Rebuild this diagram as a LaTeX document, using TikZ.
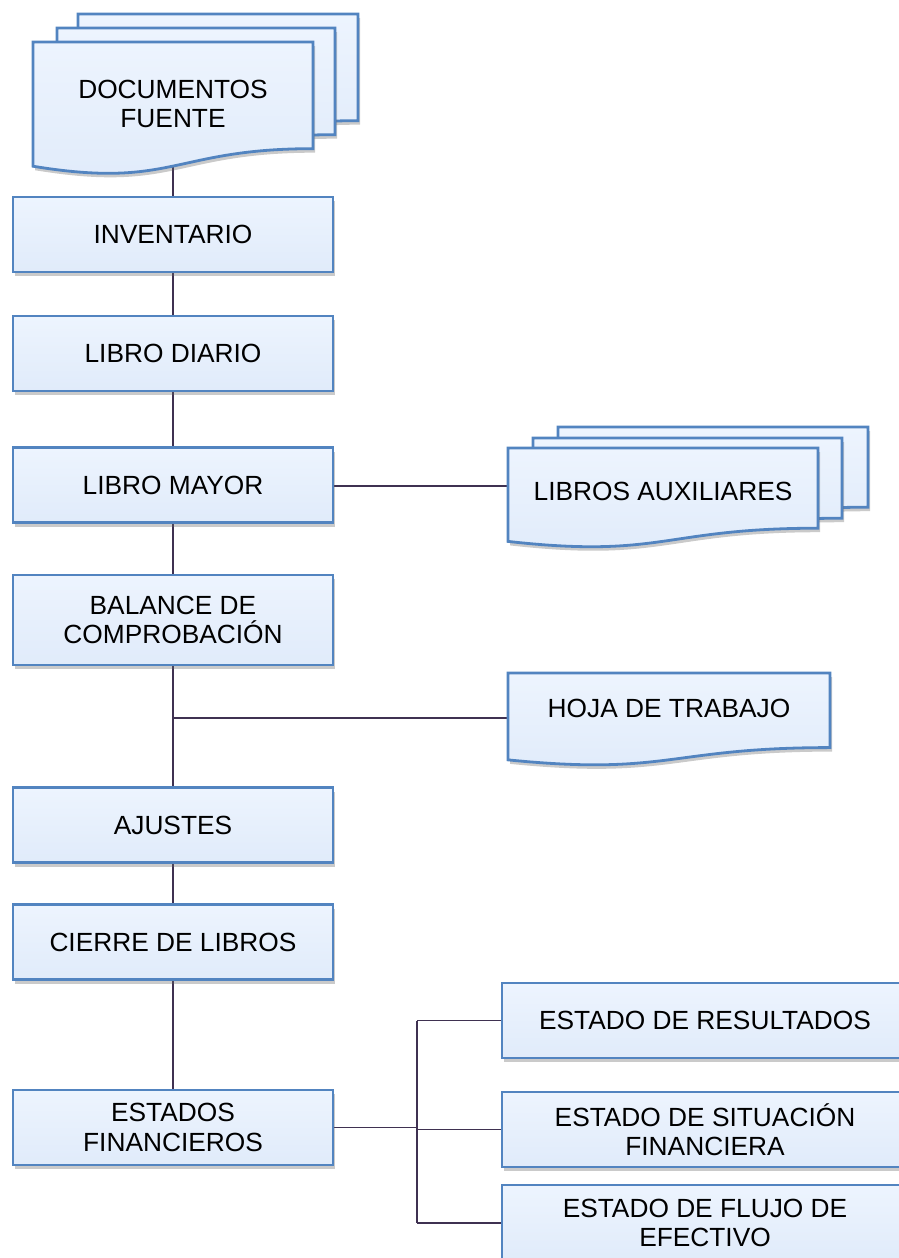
\documentclass[tikz,border=0pt]{standalone}
\usepackage{fontspec}
\setmainfont{Liberation Sans}
\usetikzlibrary{shadows,backgrounds}
\definecolor{boxfilltop}{HTML}{EDF4FE}
\definecolor{boxfillbot}{HTML}{E0EBFA}
\definecolor{boxline}{HTML}{5284C0}
\definecolor{connc}{HTML}{3F3151}
\tikzset{
  shapefill/.style={top color=boxfilltop, bottom color=boxfillbot, draw=boxline, line width=2.8pt,
    drop shadow={shadow xshift=2pt, shadow yshift=-4pt, opacity=0.35, fill=black!60}},
  box/.style={shapefill, rectangle, minimum width=320pt, minimum height=75pt, align=center,
    inner sep=0pt, font=\fontsize{26.3}{29.5}\selectfont},
  txt/.style={align=center, inner sep=0pt, font=\fontsize{26.3}{29.5}\selectfont},
  frame/.style={rectangle, inner sep=0pt, draw=none},
  connector/.style={draw=connc, line width=1.3pt},
}
\newcommand{\docsheet}[4]{%
  \path[shapefill] (#1,-#2) -- (#3,-#2) -- (#3,{-#2-0.802*#4})
    .. controls ({(#1+#3)/2},{-#2-0.802*#4}) and ({(#1+#3)/2},{-#2-1.1075*#4}) .. (#1,{-#2-0.934*#4}) -- cycle;}
\begin{document}
\begin{tikzpicture}[x=1pt,y=1pt]
\useasboundingbox (0,0) rectangle (898,-1258);

% Documentos fuente
\docsheet{78}{14}{358}{133}
\docsheet{57}{28}{335}{133}
\docsheet{33}{42}{313}{133}
\node[frame, minimum width=280pt, minimum height=124pt] (docs) at (173,-104) {};
\node[txt] (docstext) at (173,-104) {DOCUMENTOS\\FUENTE};

% Libros auxiliares
\docsheet{558}{427}{868}{100}
\docsheet{533}{438}{842}{100}
\docsheet{508}{448}{818}{100}
\node[frame, minimum width=310pt, minimum height=94pt] (aux) at (663,-495) {};
\node[txt] (auxtext) at (663,-491) {LIBROS AUXILIARES};

% Hoja de trabajo
\docsheet{508}{673}{830}{93}
\node[frame, minimum width=322pt, minimum height=87pt] (hoja) at (669,-716.5) {};
\node[txt] (hojatext) at (669,-708) {HOJA DE TRABAJO};

% Main column
\node[box] (inv) at (173,-234.5) {INVENTARIO};
\node[box] (diario) at (173,-353.5) {LIBRO DIARIO};
\node[box] (mayor) at (173,-485) {LIBRO MAYOR};
\node[box, minimum height=90pt] (balance) at (173,-620) {BALANCE DE\\COMPROBACIÓN};
\node[box] (ajustes) at (173,-825) {AJUSTES};
\node[box] (cierre) at (173,-942) {CIERRE DE LIBROS};
\node[box] (estados) at (173,-1127.5) {ESTADOS\\FINANCIEROS};

% Estados
\node[box, minimum width=406pt] (res) at (705,-1020.5) {ESTADO DE RESULTADOS};
\node[box, minimum width=406pt] (sit) at (705,-1129.5) {ESTADO DE SITUACIÓN\\FINANCIERA};
\node[box, minimum width=406pt, minimum height=76pt] (flujo) at (705,-1223) {ESTADO DE FLUJO DE\\EFECTIVO};

\coordinate (fork) at (417,-1127.5);
\coordinate (auxleft) at (508,-486);
\coordinate (hojaleft) at (508,-718);

\begin{scope}[on background layer]
  \draw[connector] (docs.south) -- (inv.north);
  \draw[connector] (inv.south) -- (diario.north);
  \draw[connector] (diario.south) -- (mayor.north);
  \draw[connector] (mayor.south) -- (balance.north);
  \draw[connector] (balance.south) -- (ajustes.north);
  \draw[connector] (ajustes.south) -- (cierre.north);
  \draw[connector] (cierre.south) -- (estados.north);
  \draw[connector] (mayor.east |- auxleft) -- (auxleft);
  \draw[connector] (balance.south |- hojaleft) -- (hojaleft);
  \draw[connector] (estados.east) -- (fork);
  \draw[connector] (fork |- res.west) -- (fork |- flujo.west);
  \draw[connector] (fork |- res.west) -- (res.west);
  \draw[connector] (fork |- sit.west) -- (sit.west);
  \draw[connector] (fork |- flujo.west) -- (flujo.west);
\end{scope}
\end{tikzpicture}
\end{document}
